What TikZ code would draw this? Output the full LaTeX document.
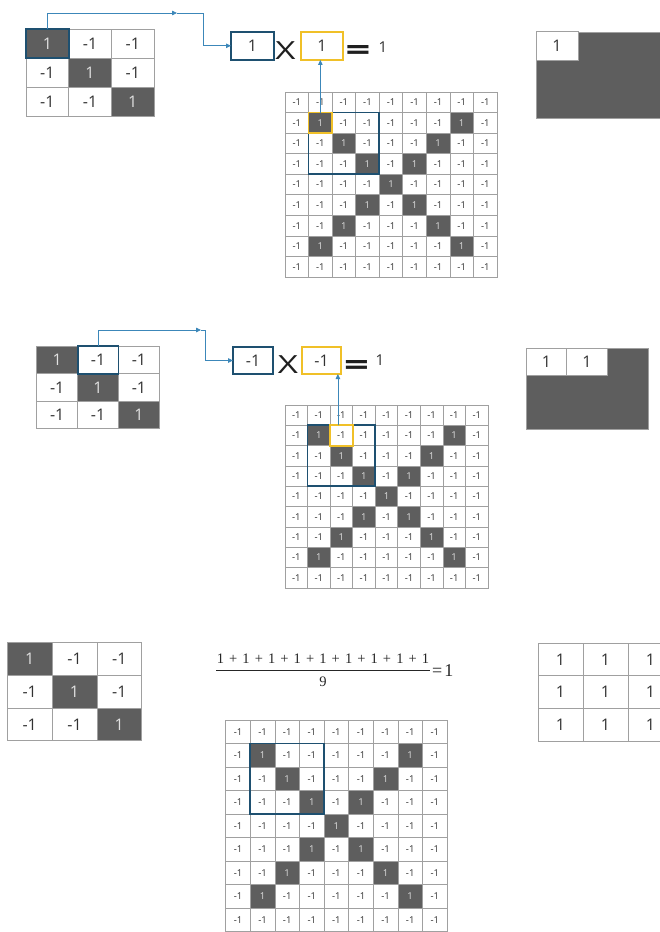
\documentclass[tikz,border=0pt]{standalone}
\usepackage{fontspec}
\setmainfont{Open Sans}
\newfontfamily\serf{Liberation Serif}
\usetikzlibrary{arrows.meta,fit,calc}
\definecolor{darkcell}{RGB}{94,94,94}
\definecolor{gridline}{RGB}{160,160,160}
\definecolor{txt}{RGB}{50,50,50}
\definecolor{ontxt}{RGB}{225,225,225}
\definecolor{hblue}{RGB}{30,80,112}
\definecolor{ablue}{RGB}{60,135,185}
\definecolor{hyellow}{RGB}{240,192,40}
\tikzset{
 cellbox/.style={draw=gridline,line width=0.7pt,fill=white,text=txt,inner sep=0pt,outer sep=0pt},
 darkbox/.style={fill=darkcell,text=ontxt},
 smallnum/.style={font=\fontsize{9.5}{10}\selectfont},
 bignum/.style={font=\fontsize{16}{18}\selectfont},
 bluehl/.style={draw=hblue,line width=1.8pt,inner sep=0pt,outer sep=0pt},
 yellowhl/.style={draw=hyellow,line width=1.8pt,inner sep=0pt,outer sep=0pt},
 arr/.style={draw=ablue,line width=0.8pt,-{Triangle[length=5pt,width=4.5pt]}},
 opx/.style={font=\fontsize{25}{25}\selectfont,text=black!88,anchor=base,inner sep=0pt},
 opeq/.style={font=\fontsize{30}{30}\selectfont\bfseries,text=black!88,anchor=base,inner sep=0pt},
 restxt/.style={font=\fontsize{15}{15}\selectfont,text=txt,anchor=base,inner sep=0pt},
 fracnum/.style={font=\serf\fontsize{14.5}{14.5}\selectfont,text=black!85,anchor=base,inner sep=0pt},
}
\newcommand\pls{\hspace{5.1pt}+\hspace{5.1pt}}
% 9x9 grid: name, x0, y0, cell width, cell height
\newcommand\bigmat[5]{%
 \foreach \r in {0,...,8}{\foreach \c in {0,...,8}{%
  \pgfmathtruncatemacro\isdk{and(and(\r>0,\r<8),or(\r==\c,\r+\c==8))}%
  \ifnum\isdk=1
   \node[cellbox,darkbox,smallnum,minimum width=#4pt,minimum height=#5pt] (#1-\r-\c) at ({#2+(\c+0.5)*#4},{#3+(\r+0.5)*#5}) {1};
  \else
   \node[cellbox,smallnum,minimum width=#4pt,minimum height=#5pt] (#1-\r-\c) at ({#2+(\c+0.5)*#4},{#3+(\r+0.5)*#5}) {-1};
  \fi}}}
% 3x3 filter
\newcommand\smallmat[5]{%
 \foreach \r in {0,1,2}{\foreach \c in {0,1,2}{%
  \ifnum\r=\c
   \node[cellbox,darkbox,bignum,minimum width=#4pt,minimum height=#5pt] (#1-\r-\c) at ({#2+(\c+0.5)*#4},{#3+(\r+0.5)*#5}) {1};
  \else
   \node[cellbox,bignum,minimum width=#4pt,minimum height=#5pt] (#1-\r-\c) at ({#2+(\c+0.5)*#4},{#3+(\r+0.5)*#5}) {-1};
  \fi}}}
\begin{document}
\begin{tikzpicture}[x=1pt,y=-1pt]
\clip (0,0) rectangle (660,932);
\fill[white] (0,0) rectangle (660,932);

%%% Panel 1
\smallmat{f1}{26}{29.3}{42.7}{28.9}
\bigmat{g1}{285}{92}{23.56}{20.56}
\node[bluehl,fit=(f1-0-0)] (hf1) {};
\node[bluehl,fit=(g1-1-1)(g1-3-3)] (gb1) {};
\node[yellowhl,fit=(g1-1-1)] (gy1) {};
\node[bluehl,bignum,text=txt,minimum width=43pt,minimum height=28.3pt] (eqb1) at (252.5,45.8) {1};
\node[opx] (x1) at (285.5,59) {\scalebox{1.4}[1]{X}};
\node[yellowhl,bignum,text=txt,minimum width=42pt,minimum height=28.3pt] (eqy1) at (322,45.8) {1};
\node[opeq] (e1) at (358,60) {\scalebox{1.45}[1]{=}};
\node[restxt] (res1) at (383,52) {1};
\coordinate (m1) at (177,13);
\coordinate (c1) at (203,13);
\draw[arr] (hf1.north) |- (m1);
\draw[arr] (m1) -- (c1) |- (eqb1.west);
\draw[arr] (gy1.north) -- (gy1.north |- eqy1.south);
\node[draw=gridline,line width=0.7pt,fill=darkcell,minimum width=126pt,minimum height=86pt,anchor=north west,inner sep=0pt] (r1) at (536,31.7) {};
\node[cellbox,bignum,minimum width=42pt,minimum height=28.7pt,anchor=north west] (r1-0-0) at (536,31.7) {1};

%%% Panel 2
\smallmat{f2}{36.7}{346}{40.9}{27.6}
\bigmat{g2}{285}{405}{22.56}{20.33}
\node[bluehl,fit=(f2-0-1)] (hf2) {};
\node[bluehl,fit=(g2-1-1)(g2-3-3)] (gb2) {};
\node[yellowhl,fit=(g2-1-2)] (gy2) {};
\node[bluehl,bignum,text=txt,minimum width=40pt,minimum height=27pt] (eqb2) at (253,360.5) {-1};
\node[opx] (x2) at (288,373) {\scalebox{1.4}[1]{X}};
\node[yellowhl,bignum,text=txt,minimum width=39pt,minimum height=27pt] (eqy2) at (321.5,360.5) {-1};
\node[opeq] (e2) at (356.5,375) {\scalebox{1.45}[1]{=}};
\node[restxt] (res2) at (380,365) {1};
\coordinate (m2) at (201,330);
\coordinate (c2) at (205,330);
\draw[arr] (hf2.north) |- (m2);
\draw[arr] (m2) -- (c2) |- (eqb2.west);
\coordinate (v2) at ([xshift=-3.5pt]gy2.north);
\draw[arr] (v2) -- (v2 |- eqy2.south);
\node[draw=gridline,line width=0.7pt,fill=darkcell,minimum width=122pt,minimum height=81pt,anchor=north west,inner sep=0pt] (r2) at (526,348) {};
\node[cellbox,bignum,minimum width=40.7pt,minimum height=27pt,anchor=north west] (r2-0-0) at (526,348) {1};
\node[cellbox,bignum,minimum width=40.7pt,minimum height=27pt,anchor=north west] (r2-0-1) at (566.7,348) {1};

%%% Panel 3
\smallmat{f3}{7.3}{642.7}{44.8}{32.7}
\bigmat{g3}{225.7}{720}{24.6}{23.5}
\node[bluehl,fit=(g3-1-1)(g3-3-3)] (gb3) {};
\foreach \r in {0,1,2}{\foreach \c in {0,1,2}{%
 \node[cellbox,bignum,minimum width=45pt,minimum height=32.7pt] (r3-\r-\c) at ({538+(\c+0.5)*45},{643+(\r+0.5)*32.7}) {1};}}
\node[fracnum] (fnum) at (323,663.5) {1\pls1\pls1\pls1\pls1\pls1\pls1\pls1\pls1};
\node[fracnum] (fden) at (323,686) {9};
\draw[black!85,line width=0.8pt] (216,670) -- (430,670);
\node[font=\serf\fontsize{18}{18}\selectfont,text=black!85,anchor=base west,inner sep=0pt] (feq) at (432,676) {=\hspace{2pt}1};
\end{tikzpicture}
\end{document}
